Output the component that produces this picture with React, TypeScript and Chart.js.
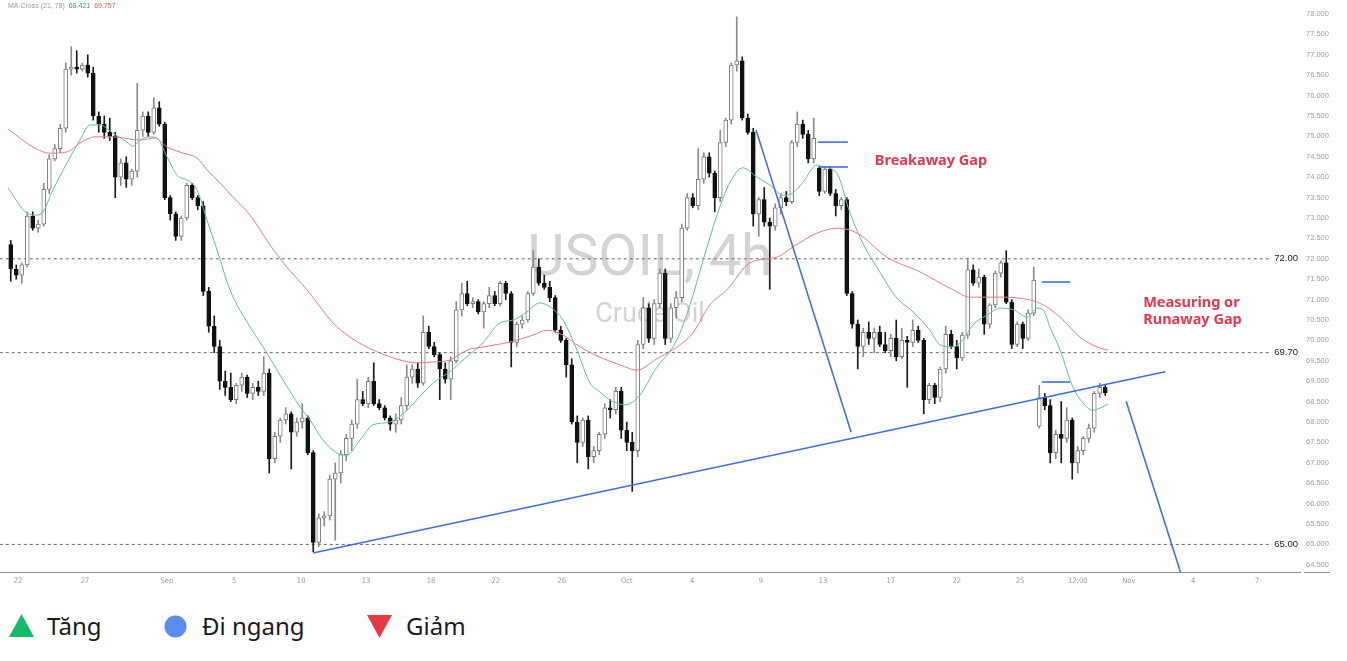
import React, { useEffect, useRef } from 'react';
import { Chart, registerables } from 'chart.js';

Chart.register(...registerables);

// ---------- candle data (4h USOIL), index = candle number ----------
const opens = [
  72.35, 71.75, 71.6, 71.85, 73.05, 72.75, 72.85, 73.7, 74.45, 74.7,
  75.2, 76.65, 76.7, 76.65, 76.75, 76.55, 75.5, 75.3, 75.1, 75.0,
  74.0, 74.35, 73.95, 74.15, 75.15, 75.5, 75.1, 75.7, 75.3, 73.5,
  73.1, 72.55, 73.0, 73.8, 73.5, 73.3, 71.2, 70.35, 69.85, 69.0,
  68.85, 68.55, 68.9, 69.1, 68.7, 68.85, 68.75, 69.2, 67.1, 67.65,
  68.05, 68.2, 67.75, 68.0, 68.1, 67.25, 65.05, 65.65, 65.7, 66.6,
  66.75, 67.2, 67.6, 67.95, 68.55, 68.45, 69.0, 68.45, 68.35, 68.1,
  67.95, 68.05, 68.4, 69.1, 69.3, 68.95, 70.2, 69.85, 69.65, 69.3,
  69.05, 69.5, 70.75, 71.15, 70.9, 70.95, 70.7, 70.9, 71.1, 70.9,
  71.4, 71.15, 69.95, 70.4, 70.5, 71.15, 71.8, 71.4, 71.3, 71.05,
  70.25, 70.0, 69.4, 68.0, 67.5, 68.05, 67.15, 67.3, 67.7, 68.35,
  68.3, 68.75, 67.8, 67.5, 67.3, 69.9, 70.8, 70.05, 70.9, 71.65,
  70.05, 70.8, 71.05, 72.75, 73.5, 73.3, 73.95, 74.5, 74.1, 73.5,
  74.85, 75.4, 76.75, 76.85, 75.45, 75.1, 73.1, 73.45, 72.9, 72.8,
  73.25, 73.5, 73.4, 74.85, 75.3, 75.05, 74.45, 74.22, 73.65, 74.2,
  73.6, 73.3, 73.45, 71.15, 70.4, 69.85, 70.2, 70.05, 70.2, 69.9,
  69.75, 70.05, 69.6, 70.0, 69.95, 70.25, 70.0, 68.55, 68.9, 68.6,
  69.3, 70.15, 69.85, 69.57, 70.13, 71.73, 71.4, 71.55, 70.4, 70.87,
  71.65, 71.9, 70.94, 69.9, 70.4, 70.05, 70.67, 67.9, 68.6, 68.4,
  67.25, 67.7, 67.6, 68.05, 67.0, 67.3, 67.6, 67.85, 68.7, 68.85,
];
const highs = [
  72.45, 71.85, 71.9, 73.15, 73.15, 72.95, 73.85, 74.55, 74.8, 75.3,
  76.8, 77.2, 77.1, 76.8, 77.0, 76.7, 75.6, 75.5, 75.45, 75.1,
  74.45, 74.5, 74.2, 76.3, 75.6, 75.6, 75.95, 75.85, 75.35, 73.55,
  73.15, 73.05, 73.85, 73.85, 73.55, 73.4, 71.3, 70.6, 70.0, 69.25,
  69.2, 68.95, 69.2, 69.15, 68.95, 69.0, 69.6, 69.3, 67.75, 68.1,
  68.35, 68.25, 68.1, 68.45, 68.15, 67.3, 65.75, 65.8, 66.7, 67.0,
  67.3, 67.7, 68.05, 69.05, 68.75, 69.1, 69.45, 68.55, 68.4, 68.15,
  68.2, 68.6, 69.4, 69.4, 69.45, 70.6, 70.35, 69.95, 69.7, 69.45,
  69.6, 70.95, 71.4, 71.45, 71.05, 71.0, 70.95, 71.3, 71.2, 71.45,
  71.45, 71.2, 70.45, 70.6, 71.2, 72.2, 72.0, 71.6, 71.45, 71.1,
  70.35, 70.05, 69.55, 68.15, 68.1, 68.15, 67.4, 67.75, 68.45, 68.55,
  68.85, 68.85, 68.0, 67.75, 70.0, 71.05, 70.9, 71.0, 71.75, 71.75,
  70.9, 71.2, 72.85, 73.6, 73.6, 74.7, 74.6, 74.6, 74.15, 75.15,
  75.45, 76.8, 77.93, 76.95, 75.55, 75.2, 73.5, 73.75, 73.0, 73.35,
  73.6, 73.65, 74.9, 75.6, 75.4, 75.15, 75.45, 74.25, 74.25, 74.25,
  73.7, 73.5, 73.5, 71.2, 70.5, 70.3, 70.45, 70.3, 70.35, 70.2,
  70.15, 70.5, 70.3, 70.1, 70.5, 70.35, 70.05, 68.95, 68.95, 69.35,
  70.35, 70.25, 70.0, 70.2, 72.02, 71.85, 71.75, 71.6, 70.9, 71.7,
  71.95, 72.2, 71.0, 70.45, 70.45, 70.75, 71.8, 68.9, 68.7, 68.55,
  67.8, 68.5, 68.35, 68.1, 67.4, 67.65, 67.95, 68.75, 68.95, 68.9,
];
const lows = [
  71.45, 71.5, 71.4, 71.8, 72.7, 72.65, 72.8, 73.6, 74.4, 74.6,
  75.1, 76.5, 76.55, 76.6, 76.45, 75.4, 75.1, 74.95, 74.9, 73.5,
  73.8, 73.75, 73.8, 74.0, 75.0, 75.0, 75.05, 75.25, 73.45, 72.95,
  72.45, 72.45, 72.95, 73.45, 73.2, 71.1, 70.2, 69.7, 68.8, 68.65,
  68.5, 68.45, 68.75, 68.6, 68.55, 68.65, 68.65, 66.75, 67.0, 67.5,
  67.95, 66.85, 67.65, 67.85, 67.2, 64.82, 64.95, 65.45, 65.6, 65.1,
  66.5, 67.05, 67.3, 67.85, 68.4, 68.35, 68.4, 68.3, 68.05, 67.8,
  67.75, 67.95, 68.3, 68.95, 68.85, 68.9, 69.8, 69.6, 68.55, 68.95,
  68.55, 69.45, 70.6, 70.85, 70.8, 70.65, 70.3, 70.8, 70.85, 70.85,
  71.0, 69.35, 69.85, 70.3, 70.45, 71.1, 71.35, 71.25, 70.95, 70.2,
  69.95, 69.1, 67.95, 67.0, 67.4, 66.85, 67.0, 67.2, 67.6, 68.1,
  68.2, 67.6, 67.3, 66.3, 67.15, 69.8, 69.95, 69.9, 70.8, 69.9,
  69.95, 70.55, 70.95, 72.7, 73.25, 73.2, 73.85, 74.0, 73.15, 73.4,
  74.75, 75.3, 76.6, 75.4, 75.05, 72.8, 72.55, 72.8, 71.25, 72.7,
  73.1, 73.3, 73.35, 74.75, 74.95, 74.35, 74.35, 73.55, 73.6, 73.55,
  73.05, 73.2, 71.1, 70.3, 69.3, 69.6, 69.9, 69.7, 69.85, 69.7,
  69.6, 69.5, 69.55, 68.85, 69.85, 69.95, 68.2, 68.45, 68.45, 68.5,
  69.2, 69.8, 69.3, 69.5, 70.05, 71.35, 71.3, 70.15, 70.3, 70.8,
  71.55, 70.9, 69.8, 69.85, 69.8, 70.0, 70.6, 67.85, 68.3, 67.0,
  67.1, 67.0, 67.5, 66.6, 66.75, 67.2, 67.5, 67.75, 68.6, 68.65,
];
const closes = [
  71.75, 71.6, 71.85, 73.05, 72.75, 72.85, 73.7, 74.45, 74.7, 75.2,
  76.65, 76.7, 76.65, 76.75, 76.55, 75.5, 75.3, 75.1, 75.0, 74.0,
  74.35, 73.95, 74.15, 75.15, 75.5, 75.1, 75.7, 75.3, 73.5, 73.1,
  72.55, 73.0, 73.8, 73.5, 73.3, 71.2, 70.35, 69.85, 69.0, 68.85,
  68.55, 68.9, 69.1, 68.7, 68.85, 68.75, 69.2, 67.1, 67.65, 68.05,
  68.2, 67.75, 68.0, 68.1, 67.25, 65.05, 65.65, 65.7, 66.6, 66.75,
  67.2, 67.6, 67.95, 68.55, 68.45, 69.0, 68.45, 68.35, 68.1, 67.95,
  68.05, 68.4, 69.1, 69.3, 68.95, 70.2, 69.85, 69.65, 69.3, 69.05,
  69.5, 70.75, 71.15, 70.9, 70.95, 70.7, 70.9, 71.1, 70.9, 71.4,
  71.15, 69.95, 70.4, 70.5, 71.15, 71.8, 71.4, 71.3, 71.05, 70.25,
  70.0, 69.4, 68.0, 67.5, 68.05, 67.15, 67.3, 67.7, 68.35, 68.3,
  68.75, 67.8, 67.5, 67.3, 69.9, 70.8, 70.05, 70.9, 71.65, 70.05,
  70.8, 71.05, 72.75, 73.5, 73.3, 73.95, 74.5, 74.1, 73.5, 74.85,
  75.4, 76.75, 76.85, 75.45, 75.1, 73.1, 73.45, 72.9, 72.8, 73.25,
  73.5, 73.4, 74.85, 75.3, 75.05, 74.45, 74.95, 73.65, 74.2, 73.6,
  73.3, 73.45, 71.15, 70.4, 69.85, 70.2, 70.05, 70.2, 69.9, 69.75,
  70.05, 69.6, 70.0, 69.95, 70.25, 70.0, 68.55, 68.9, 68.6, 69.3,
  70.15, 69.85, 69.57, 70.13, 71.73, 71.4, 71.55, 70.4, 70.87, 71.65,
  71.9, 70.94, 69.9, 70.4, 70.05, 70.67, 71.48, 68.6, 68.4, 67.25,
  67.7, 67.6, 68.05, 67.0, 67.3, 67.6, 67.85, 68.7, 68.85, 68.72,
];

// ---------- moving averages: [candle index, price] ----------
const ma21Points = [
  [-0.5, 73.74], [2.95, 73.12], [4.77, 73.07], [5.86, 73.15], [7.68, 73.69], [10.23, 74.35],
  [12.59, 74.91], [14.41, 75.28], [16.23, 75.28], [18.59, 75.08], [21.14, 74.86], [22.23, 74.76],
  [23.5, 74.91], [25.32, 74.99], [26.59, 74.96], [28.41, 74.5], [30.23, 74.05], [32.05, 73.93],
  [33.86, 73.69], [35.68, 72.95], [37.5, 72.22], [39.86, 71.24], [43.5, 70.33], [45.86, 69.84],
  [49.5, 69.03], [52.59, 68.37], [54.41, 68.05], [56.77, 67.56], [59.32, 67.24], [61.14, 67.19],
  [63.5, 67.56], [65.86, 67.93], [68.95, 68.0], [72.05, 68.29], [74.95, 68.71], [77.5, 69.03],
  [79.86, 69.23], [82.23, 69.52], [85.86, 69.94], [88.95, 70.43], [91.32, 70.5], [93.86, 70.7],
  [96.23, 70.92], [98.05, 70.82], [100.4, 70.5], [102.95, 69.76], [105.3, 68.96], [107.1, 68.74],
  [108.95, 68.54], [111.7, 68.42], [114.4, 68.66], [117.1, 69.27], [121.1, 70.01], [123.5, 70.87],
  [125.9, 71.97], [128.4, 73.07], [130.8, 73.88], [133.1, 74.23], [135.7, 74.0], [138.0, 73.81],
  [140.4, 73.56], [142.2, 73.61], [144.05, 73.88], [146.6, 74.3], [147.7, 74.25], [150.2, 74.1],
  [152.6, 73.12], [154.9, 72.39], [158.0, 71.68], [161.1, 71.04], [164.05, 70.7], [167.1, 70.25],
  [168.95, 69.89], [171.3, 69.84], [173.1, 70.01], [174.95, 70.38], [177.5, 70.62], [179.9, 70.79],
  [182.3, 70.75], [184.8, 70.57], [186.6, 70.79], [187.7, 70.75], [188.95, 70.33], [190.8, 69.76],
  [193.1, 68.86], [194.95, 68.47], [196.7, 68.29], [198.05, 68.34], [199.5, 68.44],
];
const ma78Points = [
  [-0.5, 75.18], [4.05, 74.74], [7.14, 74.59], [10.23, 74.62], [12.59, 74.84], [15.32, 74.99],
  [18.59, 74.99], [23.5, 74.91], [26.23, 74.96], [28.41, 74.74], [31.32, 74.59], [33.86, 74.47],
  [35.68, 74.18], [38.05, 73.86], [40.41, 73.51], [43.5, 73.07], [47.14, 72.34], [49.86, 71.85],
  [53.86, 71.24], [58.59, 70.43], [61.68, 70.08], [66.59, 69.72], [70.77, 69.52], [73.86, 69.45],
  [76.77, 69.47], [79.86, 69.52], [82.95, 69.76], [85.86, 69.84], [90.77, 69.96], [94.95, 70.13],
  [97.5, 70.25], [100.4, 70.13], [103.5, 69.84], [107.1, 69.59], [110.8, 69.4], [113.9, 69.27],
  [117.1, 69.52], [120.8, 69.81], [124.0, 70.18], [127.1, 70.87], [130.2, 71.24], [134.4, 71.9],
  [139.3, 72.04], [142.2, 72.29], [146.6, 72.63], [150.2, 72.75], [153.9, 72.63], [159.3, 72.04],
  [165.3, 71.68], [171.3, 71.24], [174.4, 71.06], [179.9, 71.06], [185.3, 70.99], [188.4, 70.82],
  [191.3, 70.5], [194.4, 70.08], [197.5, 69.84], [199.5, 69.76],
];

// ---------- axes ----------
const xTickPos = [1.32, 13.5, 28.4, 40.6, 52.8, 64.6, 76.4, 88.2, 100.2, 112.0, 123.9, 136.4, 147.7, 160.0, 172.0, 183.5, 194.0, 203.3, 215.0, 226.6];
const xTickLabels = ['22', '27', 'Sep', '5', '10', '13', '18', '22', '26', 'Oct', '4', '9', '13', '17', '22', '25', '12:00', 'Nov', '4', '7'];
const yTicks = [64.5, 65, 65.5, 66, 66.5, 67, 67.5, 68, 68.5, 69, 69.5, 70, 70.5, 71, 71.5, 72, 72.5, 73, 73.5, 74, 74.5, 75, 75.5, 76, 76.5, 77, 77.5, 78];
const xMin = -1.9545;
const xMax = 234.41;
const yMin = 64.324;
const yMax = 78.343;

// ---------- annotations ----------
const levelValues = [72.0, 69.7, 65.0];
const levelRange = [-2, 229.3];
const blueLines = [
  [54.95, 64.79, 209.9, 69.23],
  [135.5, 75.16, 152.8, 67.75],
  [202.8, 68.51, 212.8, 64.27],
  [146.8, 74.86, 152.2, 74.86],
  [146.8, 74.25, 152.2, 74.25],
  [187.5, 71.43, 192.6, 71.43],
  [187.5, 68.98, 192.6, 68.98],
];
const gapNotes = [
  { text: 'Breakaway Gap', x: 157.1, y: 74.4 },
  { text: 'Measuring or', x: 205.9, y: 70.92 },
  { text: 'Runaway Gap', x: 205.9, y: 70.5 },
];
const maHeader = { name: 'MA Cross (21, 78)', fast: '68.421', slow: '69.757' };
const watermarkTitle = 'USOIL, 4h';
const watermarkSub = 'Crude Oil';
const legendItems = ['Tăng', 'Đi ngang', 'Giảm'];

const BLUE = '#3f6ee4';
const TEAL = '#5fbcae';
const SALMON = '#ef7878';
const RED_TEXT = '#e8364d';

const overlayPlugin = {
  id: 'overlay',
  beforeDatasetsDraw(chart: any) {
    const { ctx, chartArea } = chart;
    const cx = (chartArea.left + chartArea.right) / 2;
    ctx.save();
    ctx.fillStyle = '#d3d3d3';
    ctx.textAlign = 'center';
    ctx.textBaseline = 'alphabetic';
    ctx.font = '57px Roboto';
    ctx.fillText(watermarkTitle, cx, 275);
    ctx.font = '27px Roboto';
    ctx.fillText(watermarkSub, cx, 322);
    ctx.restore();
  },
  afterDatasetsDraw(chart: any) {
    const { ctx, chartArea, scales } = chart;
    const xs = scales.x;
    const ys = scales.y;
    ctx.save();
    ctx.fillStyle = RED_TEXT;
    ctx.font = 'bold 14.5px "Noto Sans"';
    ctx.textAlign = 'left';
    ctx.textBaseline = 'middle';
    gapNotes.forEach((n) => {
      ctx.fillText(n.text, xs.getPixelForValue(n.x), ys.getPixelForValue(n.y));
    });
    ctx.fillStyle = '#222';
    ctx.font = '9.5px "Liberation Sans"';
    ctx.textAlign = 'right';
    levelValues.forEach((v) => {
      ctx.fillText(v.toFixed(2), chartArea.right - 2, ys.getPixelForValue(v));
    });
    ctx.font = '7px "Liberation Sans"';
    ctx.textAlign = 'left';
    let px = 8;
    const py = 6.5;
    ctx.fillStyle = '#9a9a9a';
    ctx.fillText(maHeader.name, px, py);
    px += ctx.measureText(maHeader.name).width + 4;
    ctx.fillStyle = '#26a69a';
    ctx.fillText(maHeader.fast, px, py);
    px += ctx.measureText(maHeader.fast).width + 4;
    ctx.fillStyle = '#ef5350';
    ctx.fillText(maHeader.slow, px, py);
    ctx.strokeStyle = '#8a8a8a';
    ctx.lineWidth = 1;
    ctx.beginPath();
    ctx.moveTo(chartArea.right + 4, chartArea.bottom + 0.5);
    ctx.lineTo(chartArea.right + 30, chartArea.bottom + 0.5);
    ctx.stroke();
    ctx.restore();
  },
};

function CandleChart() {
  const ref = useRef<HTMLCanvasElement | null>(null);
  useEffect(() => {
    if (!ref.current) return;
    const idx = closes.map((_, i) => i);
    const isUp = (i: number) => closes[i] >= opens[i];

    const datasets: any[] = [
      {
        type: 'bar',
        label: 'wicks',
        data: idx.map((i) => ({ x: i, y: [lows[i], highs[i]] })),
        backgroundColor: idx.map((i) => (isUp(i) ? '#8a8a8a' : '#1a1a1a')),
        barThickness: 1,
        grouped: false,
        order: 6,
      },
      {
        type: 'bar',
        label: 'bodies',
        data: idx.map((i) => ({ x: i, y: [Math.min(opens[i], closes[i]), Math.max(opens[i], closes[i])] })),
        backgroundColor: idx.map((i) => (isUp(i) ? '#ffffff' : '#111111')),
        borderColor: idx.map((i) => (isUp(i) ? '#7a7a7a' : '#111111')),
        borderWidth: 1,
        borderSkipped: false,
        barThickness: 4,
        minBarLength: 1,
        grouped: false,
        order: 5,
      },
      {
        type: 'line',
        label: 'MA78',
        data: ma78Points.map(([x, y]) => ({ x, y })),
        borderColor: SALMON,
        borderWidth: 1,
        pointRadius: 0,
        cubicInterpolationMode: 'monotone',
        order: 3,
      },
      {
        type: 'line',
        label: 'MA21',
        data: ma21Points.map(([x, y]) => ({ x, y })),
        borderColor: TEAL,
        borderWidth: 1,
        pointRadius: 0,
        cubicInterpolationMode: 'monotone',
        order: 2,
      },
      ...levelValues.map((v) => ({
        type: 'line',
        label: 'level',
        data: [{ x: levelRange[0], y: v }, { x: levelRange[1], y: v }],
        borderColor: '#666666',
        borderWidth: 1,
        borderDash: [3, 3],
        pointRadius: 0,
        order: 7,
      })),
      ...blueLines.map((l) => ({
        type: 'line',
        label: 'drawing',
        data: [{ x: l[0], y: l[1] }, { x: l[2], y: l[3] }],
        borderColor: BLUE,
        borderWidth: 1.6,
        pointRadius: 0,
        order: 1,
      })),
    ];

    const chart = new Chart(ref.current, {
      type: 'bar',
      data: { datasets },
      options: {
        animation: false,
        responsive: false,
        maintainAspectRatio: false,
        devicePixelRatio: 1,
        events: [],
        layout: { padding: 0 },
        plugins: { legend: { display: false }, tooltip: { enabled: false } },
        scales: {
          x: {
            type: 'linear',
            min: xMin,
            max: xMax,
            offset: false,
            grid: { display: false, drawTicks: false },
            border: { display: true, color: '#8a8a8a', width: 1 },
            afterBuildTicks: (s: any) => {
              s.ticks = xTickPos.map((v) => ({ value: v }));
            },
            afterFit: (s: any) => {
              s.height = 28;
              s.paddingLeft = 0;
              s.paddingRight = 0;
            },
            ticks: {
              autoSkip: false,
              maxRotation: 0,
              padding: 5,
              color: '#9a9a9a',
              font: { size: 7.5, family: '"Liberation Sans Narrow", "DejaVu Sans Condensed", sans-serif' },
              callback: (_v: any, i: number) => xTickLabels[i],
            },
          },
          y: {
            type: 'linear',
            position: 'right',
            min: yMin,
            max: yMax,
            grid: { display: false, drawTicks: false },
            border: { display: false },
            afterBuildTicks: (s: any) => {
              s.ticks = yTicks.map((v) => ({ value: v }));
            },
            afterFit: (s: any) => {
              s.width = 47;
              s.paddingTop = 0;
              s.paddingBottom = 0;
            },
            ticks: {
              autoSkip: false,
              padding: 6,
              color: '#a0a0a0',
              font: { size: 7.5, family: '"Liberation Sans", sans-serif' },
              callback: (v: any) => Number(v).toFixed(3),
            },
          },
        },
      } as any,
      plugins: [overlayPlugin],
    });
    return () => chart.destroy();
  }, []);

  return <canvas ref={ref} width={1347} height={600} style={{ display: 'block', width: 1347, height: 600 }} />;
}

function Legend() {
  const textStyle: React.CSSProperties = {
    position: 'absolute',
    top: 611,
    fontSize: 24,
    lineHeight: '30px',
    fontFamily: '"Noto Sans", sans-serif',
    color: '#1a1a1a',
    whiteSpace: 'nowrap',
  };
  return (
    <>
      <svg style={{ position: 'absolute', left: 9, top: 614 }} width={25} height={23}>
        <polygon points="12.5,0 25,23 0,23" fill="#17b96b" />
      </svg>
      <div style={{ ...textStyle, left: 47 }}>{legendItems[0]}</div>
      <svg style={{ position: 'absolute', left: 164, top: 615 }} width={23} height={23}>
        <circle cx={11.5} cy={11.5} r={11} fill="#5b8def" />
      </svg>
      <div style={{ ...textStyle, left: 202 }}>{legendItems[1]}</div>
      <svg style={{ position: 'absolute', left: 367, top: 615 }} width={25} height={23}>
        <polygon points="0,0 25,0 12.5,23" fill="#e63946" />
      </svg>
      <div style={{ ...textStyle, left: 406 }}>{legendItems[2]}</div>
    </>
  );
}

export default function App() {
  return (
    <div style={{ position: 'fixed', left: 0, top: 0, width: 1347, height: 661, background: '#ffffff', overflow: 'hidden' }}>
      <CandleChart />
      <Legend />
    </div>
  );
}
